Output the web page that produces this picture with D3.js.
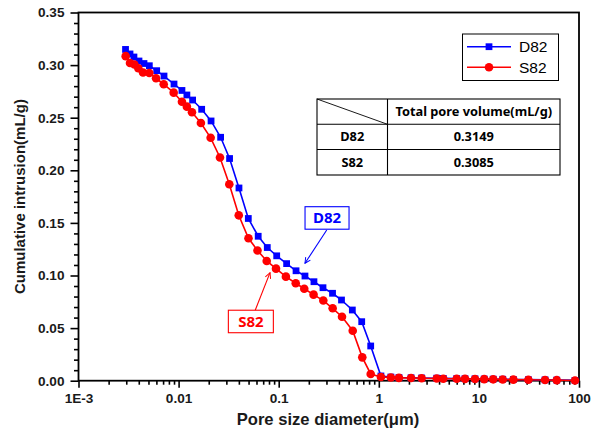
<!DOCTYPE html>
<html>
<head>
<meta charset="utf-8">
<script src="https://cdn.jsdelivr.net/npm/d3@7"></script>
<style>
  html, body { margin: 0; padding: 0; background: #fff; }
  svg { display: block; }
</style>
</head>
<body>
<svg id="chart" width="601" height="437"></svg>
<script>
// Pore diameters (µm) and cumulative intrusion (mL/g)
const d82Diameter = [0.00295, 0.00327, 0.00358, 0.00402, 0.00451, 0.00510, 0.00604, 0.00715, 0.00900, 0.0108,
  0.0121, 0.0138, 0.0170, 0.0211, 0.0263, 0.0323, 0.0401, 0.0497, 0.0624, 0.0769,
  0.0955, 0.120, 0.149, 0.183, 0.225, 0.277, 0.345, 0.424, 0.544, 0.675,
  0.830, 1.05, 1.32, 1.59, 2.10, 2.68, 3.79, 4.41, 6.00, 7.26,
  9.14, 11.3, 13.9, 17.3, 22.1, 31.2, 45.8, 59.9, 91.2];
const d82Intrusion = [0.3149, 0.3106, 0.3077, 0.3039, 0.3015, 0.2994, 0.2947, 0.2896, 0.2820, 0.2759,
  0.2716, 0.2668, 0.2580, 0.2469, 0.2314, 0.2112, 0.1832, 0.1542, 0.1373, 0.1266,
  0.1187, 0.1113, 0.1045, 0.0995, 0.0941, 0.0884, 0.0831, 0.0767, 0.0672, 0.0561,
  0.0330, 0.0045, 0.0035, 0.0030, 0.0028, 0.0026, 0.0024, 0.0022, 0.0020, 0.0019,
  0.0018, 0.0016, 0.0015, 0.0014, 0.0012, 0.0010, 0.0008, 0.0006, 0.0003];

const s82Diameter = [0.00296, 0.00327, 0.00362, 0.00396, 0.00441, 0.00510, 0.00595, 0.00710, 0.00893, 0.0108,
  0.0121, 0.0136, 0.0167, 0.0209, 0.0259, 0.0321, 0.0399, 0.0499, 0.0614, 0.0759,
  0.0940, 0.118, 0.148, 0.180, 0.223, 0.279, 0.346, 0.429, 0.549, 0.684,
  0.830, 1.05, 1.32, 1.59, 2.10, 2.68, 3.79, 4.41, 6.00, 7.26,
  9.14, 11.3, 13.9, 17.3, 22.1, 31.2, 45.8, 59.9, 91.2];
const s82Intrusion = [0.3085, 0.3020, 0.3006, 0.2970, 0.2930, 0.2925, 0.2875, 0.2818, 0.2738, 0.2652,
  0.2605, 0.2552, 0.2450, 0.2309, 0.2122, 0.1867, 0.1572, 0.1354, 0.1238, 0.1138,
  0.1065, 0.0989, 0.0926, 0.0874, 0.0818, 0.0762, 0.0688, 0.0608, 0.0475, 0.0222,
  0.0064, 0.0035, 0.0030, 0.0027, 0.0025, 0.0023, 0.0021, 0.0019, 0.0018, 0.0017,
  0.0016, 0.0015, 0.0013, 0.0012, 0.0010, 0.0009, 0.0007, 0.0005, 0.0002];

const seriesNames = ["D82", "S82"];
const seriesColors = ["#0000ff", "#ff0000"];

const xMajorTicks = [0.001, 0.01, 0.1, 1, 10, 100];
const xTickLabels = ["1E-3", "0.01", "0.1", "1", "10", "100"];
const yMajorTicks = [0, 0.05, 0.10, 0.15, 0.20, 0.25, 0.30, 0.35];
const yTickLabels = ["0.00", "0.05", "0.10", "0.15", "0.20", "0.25", "0.30", "0.35"];

const tableHeader = "Total pore volume(mL/g)";
const tableValues = ["0.3149", "0.3085"];

// Callout anchors in data units: label centre, arrow start, arrow tip
const calloutD82 = { center: [0.304, 0.1547], from: [0.302, 0.1432], to: [0.183, 0.1116] };
const calloutS82 = { center: [0.0527, 0.0563], from: [0.058, 0.0665], to: [0.0819, 0.1027] };

const xTitle = "Pore size diameter(\u03bcm)";
const yTitle = "Cumulative intrusion(mL/g)";

// ---------- layout ----------
const svg = d3.select("#chart");
const L = 78.5, R = 579, T = 12.5, B = 380.7;

const x = d3.scaleLog().domain([0.001, 100]).range([L, R]);
const y = d3.scaleLinear().domain([0, 0.35]).range([B, T]);

const axisFont = "'Liberation Sans', Arial, sans-serif";
const tableFont = "'Noto Sans', 'Open Sans', sans-serif";

// minor ticks
const xMinor = [];
for (let e = -3; e < 2; e++) for (let m = 2; m <= 9; m++) xMinor.push(m * Math.pow(10, e));
const yMinor = d3.range(0, 36).map(i => i / 100).filter(v => Math.round(v * 100) % 5 !== 0);

const gx = svg.append("g").attr("transform", `translate(0,${B})`);
gx.call(d3.axisBottom(x).tickValues(xMinor).tickSize(4).tickFormat(""));
gx.append("g").call(d3.axisBottom(x).tickValues(xMajorTicks).tickSize(7)
  .tickFormat((d, i) => xTickLabels[i]).tickPadding(6));
gx.selectAll("path.domain").remove();
gx.selectAll("line").attr("stroke", "#000").attr("stroke-width", 1.6);
gx.selectAll("text").attr("font-family", axisFont).attr("font-weight", "bold")
  .attr("font-size", 13.6).attr("fill", "#1a1a1a");

const gy = svg.append("g").attr("transform", `translate(${L},0)`);
gy.call(d3.axisLeft(y).tickValues(yMinor).tickSize(4.5).tickFormat(""));
gy.append("g").call(d3.axisLeft(y).tickValues(yMajorTicks).tickSize(8)
  .tickFormat((d, i) => yTickLabels[i]).tickPadding(6));
gy.selectAll("path.domain").remove();
gy.selectAll("line").attr("stroke", "#000").attr("stroke-width", 1.6);
gy.selectAll("text").attr("font-family", axisFont).attr("font-weight", "bold")
  .attr("font-size", 13.6).attr("fill", "#1a1a1a");

// frame
svg.append("rect").attr("x", L).attr("y", T).attr("width", R - L).attr("height", B - T)
  .attr("fill", "none").attr("stroke", "#000").attr("stroke-width", 1.8);

// axis titles
svg.append("text").attr("x", 328).attr("y", 425).attr("text-anchor", "middle")
  .attr("font-family", axisFont).attr("font-weight", "bold").attr("font-size", 16.6)
  .attr("fill", "#1a1a1a").text(xTitle);
svg.append("text").attr("transform", `translate(25,${(T + B) / 2}) rotate(-90)`)
  .attr("text-anchor", "middle").attr("font-family", axisFont).attr("font-weight", "bold")
  .attr("font-size", 15).attr("fill", "#1a1a1a").text(yTitle);

// ---------- series ----------
const series = [
  { name: seriesNames[0], color: seriesColors[0], shape: "square",
    pts: d82Diameter.map((d, i) => [d, d82Intrusion[i]]) },
  { name: seriesNames[1], color: seriesColors[1], shape: "circle",
    pts: s82Diameter.map((d, i) => [d, s82Intrusion[i]]) }
];

const line = d3.line().x(d => x(d[0])).y(d => y(d[1]));
const squareSym = d3.symbol().type(d3.symbolSquare).size(46);

function drawMarker(g, shape, color, cx, cy) {
  if (shape === "square") {
    g.append("path").attr("d", squareSym()).attr("transform", `translate(${cx},${cy})`)
      .attr("fill", color);
  } else {
    g.append("circle").attr("cx", cx).attr("cy", cy).attr("r", 4.3).attr("fill", color);
  }
}

series.forEach(s => {
  const g = svg.append("g");
  g.append("path").datum(s.pts).attr("d", line).attr("fill", "none")
    .attr("stroke", s.color).attr("stroke-width", 1.6);
  s.pts.forEach(p => drawMarker(g, s.shape, s.color, x(p[0]), y(p[1])));
});

// ---------- legend ----------
const leg = svg.append("g");
leg.append("rect").attr("x", 462.5).attr("y", 34).attr("width", 96).attr("height", 46.5)
  .attr("fill", "#fff").attr("stroke", "#000").attr("stroke-width", 1);
series.forEach((s, i) => {
  const ly = 46.7 + i * 20.6;
  leg.append("line").attr("x1", 467).attr("x2", 511).attr("y1", ly).attr("y2", ly)
    .attr("stroke", s.color).attr("stroke-width", 1.6);
  drawMarker(leg, s.shape, s.color, 489, ly);
  leg.append("text").attr("x", 519).attr("y", ly + 5.5).attr("font-family", axisFont)
    .attr("font-size", 15.5).attr("fill", "#000").text(s.name);
});

// ---------- table ----------
const tb = svg.append("g").attr("font-family", tableFont).attr("font-weight", "bold")
  .attr("font-size", 12.8).attr("fill", "#000");
const tx0 = 317, tx1 = 387.5, tx2 = 560;
const rowY = [99, 124.3, 149.5, 175];
tb.append("rect").attr("x", tx0).attr("y", rowY[0]).attr("width", tx2 - tx0)
  .attr("height", rowY[3] - rowY[0]).attr("fill", "#fff").attr("stroke", "#000").attr("stroke-width", 1.1);
[rowY[1], rowY[2]].forEach(ry => tb.append("line").attr("x1", tx0).attr("x2", tx2)
  .attr("y1", ry).attr("y2", ry).attr("stroke", "#000").attr("stroke-width", 1.1));
tb.append("line").attr("x1", tx1).attr("x2", tx1).attr("y1", rowY[0]).attr("y2", rowY[3])
  .attr("stroke", "#000").attr("stroke-width", 1.1);
tb.append("line").attr("x1", tx0).attr("y1", rowY[0]).attr("x2", tx1).attr("y2", rowY[1])
  .attr("stroke", "#000").attr("stroke-width", 0.9);
tb.append("text").attr("x", (tx1 + tx2) / 2).attr("y", (rowY[0] + rowY[1]) / 2 + 4.5)
  .attr("text-anchor", "middle").text(tableHeader);
seriesNames.forEach((n, i) => {
  const cy = (rowY[i + 1] + rowY[i + 2]) / 2 + 4.5;
  tb.append("text").attr("x", (tx0 + tx1) / 2).attr("y", cy).attr("text-anchor", "middle").text(n);
  tb.append("text").attr("x", (tx1 + tx2) / 2).attr("y", cy).attr("text-anchor", "middle").text(tableValues[i]);
});

// ---------- callouts ----------
const defs = svg.append("defs");
seriesColors.forEach((c, i) => {
  defs.append("marker").attr("id", "arrow" + i).attr("viewBox", "0 0 10 10")
    .attr("refX", 9).attr("refY", 5).attr("markerWidth", 7).attr("markerHeight", 7)
    .attr("orient", "auto").attr("markerUnits", "userSpaceOnUse")
    .append("path").attr("d", "M1,1 L9,5 L1,9").attr("fill", "none")
    .attr("stroke", c).attr("stroke-width", 1.4);
});

[calloutD82, calloutS82].forEach((co, i) => {
  const g = svg.append("g");
  const cx = x(co.center[0]), cy = y(co.center[1]);
  const w = i === 0 ? 44 : 45, h = 22.5;
  g.append("line").attr("x1", x(co.from[0])).attr("y1", y(co.from[1]))
    .attr("x2", x(co.to[0])).attr("y2", y(co.to[1]))
    .attr("stroke", seriesColors[i]).attr("stroke-width", 1.1)
    .attr("marker-end", `url(#arrow${i})`);
  g.append("rect").attr("x", cx - w / 2).attr("y", cy - h / 2).attr("width", w).attr("height", h)
    .attr("fill", "#fff").attr("stroke", seriesColors[i]).attr("stroke-width", 1.1);
  g.append("text").attr("x", cx).attr("y", cy + 5.3).attr("text-anchor", "middle")
    .attr("font-family", tableFont).attr("font-weight", "bold").attr("font-size", 15)
    .attr("fill", seriesColors[i]).text(seriesNames[i]);
});
</script>
</body>
</html>
